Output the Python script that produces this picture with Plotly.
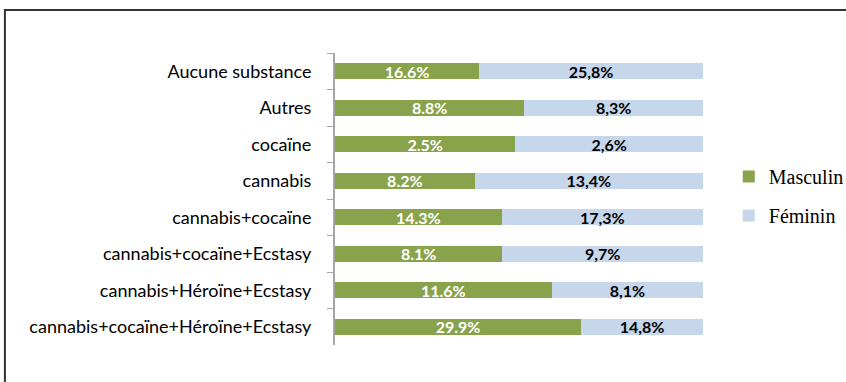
import plotly.graph_objects as go

categories = ["Aucune substance", "Autres", "cocaïne", "cannabis", "cannabis+cocaïne",
              "cannabis+cocaïne+Ecstasy", "cannabis+Héroïne+Ecstasy",
              "cannabis+cocaïne+Héroïne+Ecstasy"]
masculin = [16.6, 8.8, 2.5, 8.2, 14.3, 8.1, 11.6, 29.9]
feminin = [25.8, 8.3, 2.6, 13.4, 17.3, 9.7, 8.1, 14.8]
masculin_text = ["16.6%", "8.8%", "2.5%", "8.2%", "14.3%", "8.1%", "11.6%", "29.9%"]
feminin_text = ["25,8%", "8,3%", "2,6%", "13,4%", "17,3%", "9,7%", "8,1%", "14,8%"]

fig = go.Figure()
fig.add_trace(go.Bar(
    y=categories, x=masculin, name="Masculin", orientation="h",
    text=masculin_text, textposition="inside", insidetextanchor="middle",
    textfont=dict(color="white", size=16, family="Lato", weight="bold"),
    marker=dict(color="#89A34C", line=dict(width=0)),
    legendgroup="m",
))
fig.add_trace(go.Bar(
    y=categories, x=feminin, name="Féminin", orientation="h",
    text=feminin_text, textposition="inside", insidetextanchor="middle",
    textfont=dict(color="black", size=16, family="Lato", weight="bold"),
    marker=dict(color="#C6D7EB", line=dict(width=0)),
    legendgroup="f",
))

fig.update_layout(
    barmode="stack", barnorm="percent", bargap=0.56,
    width=846, height=382,
    margin=dict(l=335, r=143, t=53, b=37, autoexpand=False),
    plot_bgcolor="white", paper_bgcolor="white",
    showlegend=True,
    legend=dict(x=1.07, y=0.51, xanchor="left", yanchor="middle",
                traceorder="grouped", tracegroupgap=10, itemwidth=30,
                font=dict(family="Liberation Serif", size=20, color="black"),
                itemsizing="constant"),
    uniformtext=dict(mode="show", minsize=10),
    shapes=[dict(type="rect", xref="paper", yref="paper",
                 x0=-0.897, x1=1.45, y0=-0.3, y1=1.147,
                 line=dict(color="#333333", width=2))],
)
fig.update_xaxes(range=[0, 100], visible=False)
fig.update_yaxes(categoryorder="array", categoryarray=categories, autorange="reversed",
                 showline=True, linecolor="#A6A6A6", linewidth=2,
                 ticks="outside", ticklen=6, tickcolor="#A6A6A6", tickson="boundaries",
                 ticklabelstandoff=18,
                 tickfont=dict(family="Lato", size=18, color="black"))

fig.write_html("out.html", config={"displayModeBar": False},
               post_script="document.body.style.margin='0';")
